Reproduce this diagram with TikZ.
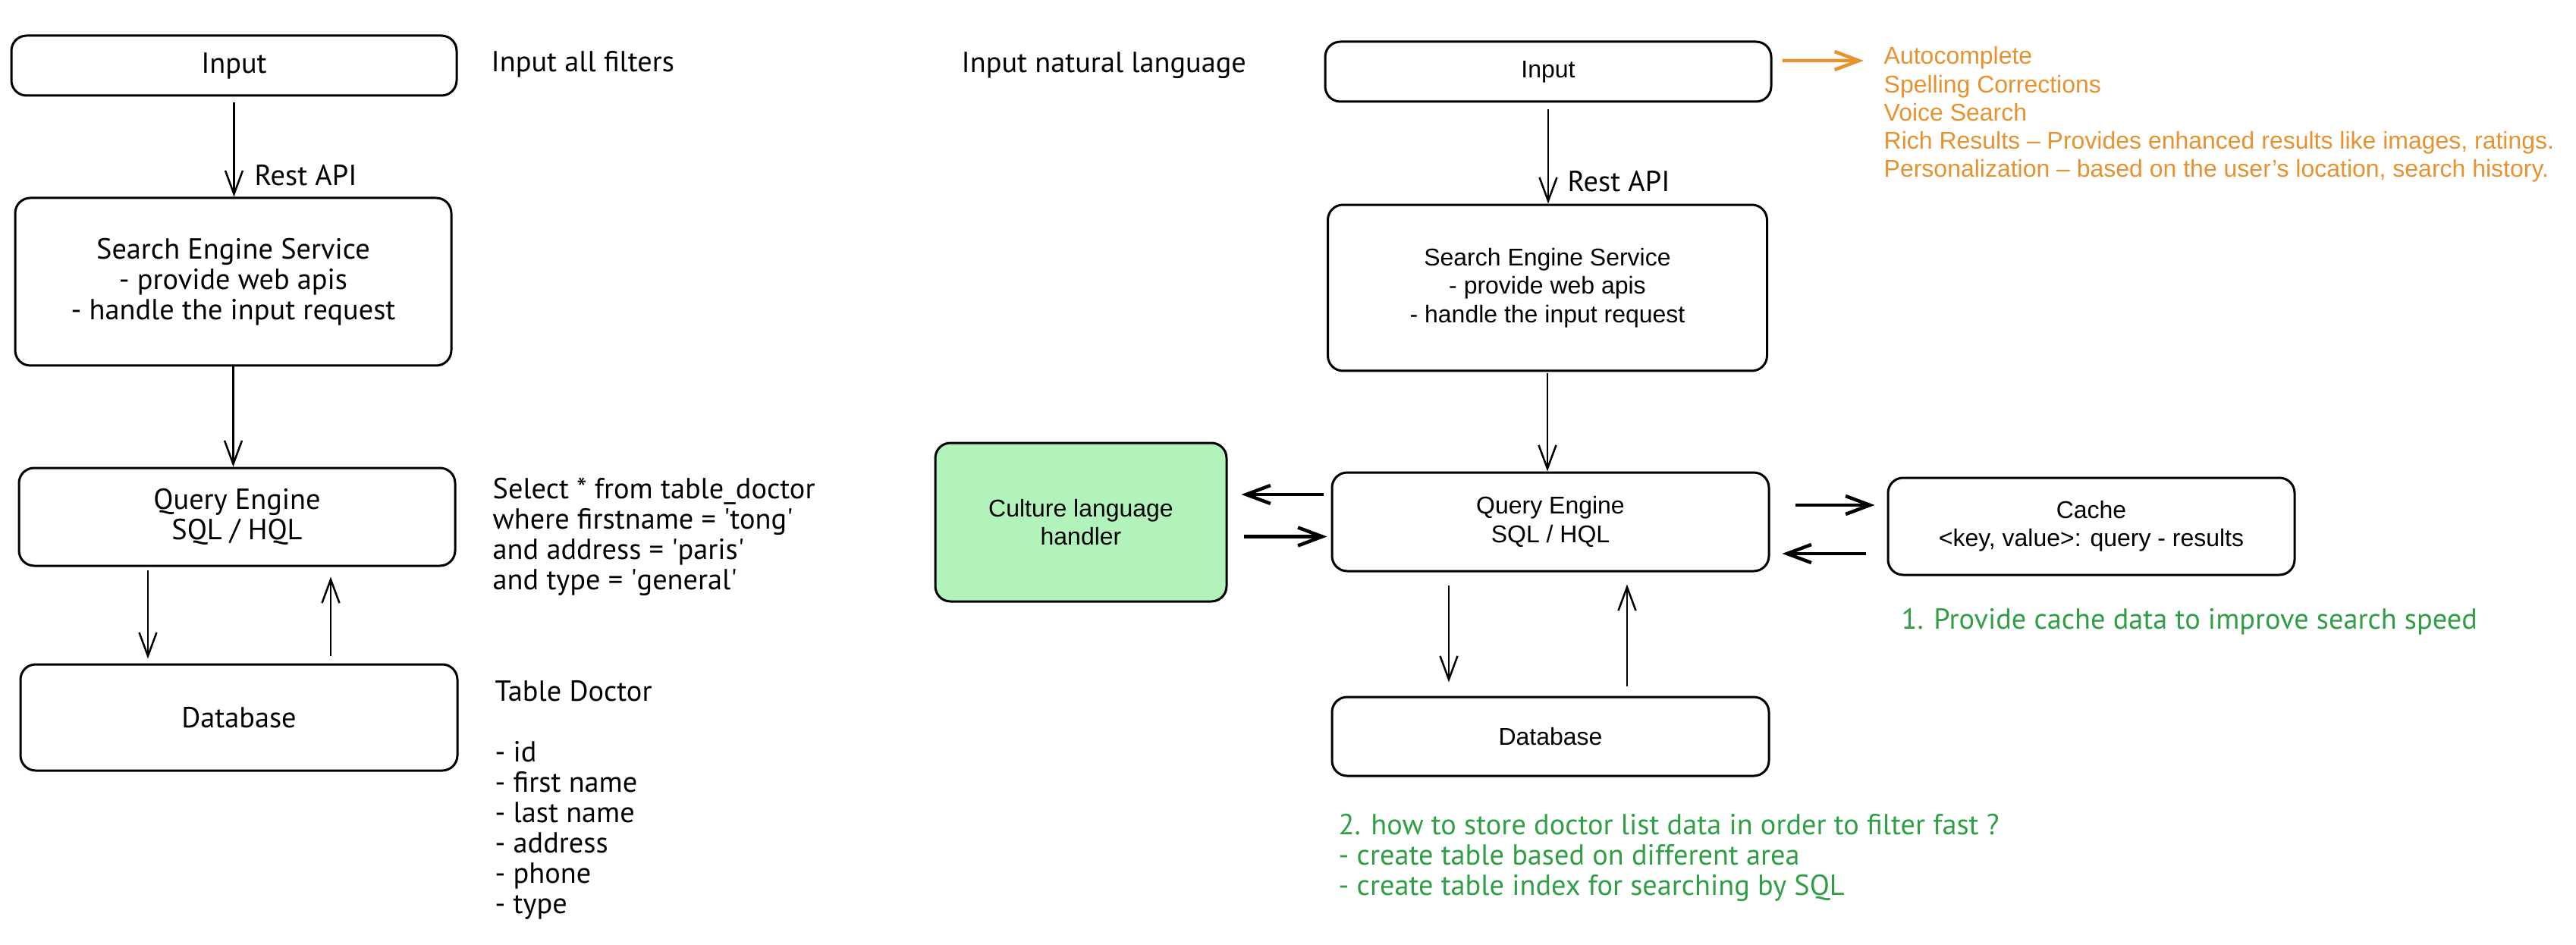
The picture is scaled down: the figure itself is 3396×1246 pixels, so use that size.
\documentclass[tikz,border=0pt]{standalone}
\usepackage{fontspec}
\setmainfont{Liberation Sans}
\newfontfamily\handfont{PT Sans}
\usetikzlibrary{arrows.meta}

\definecolor{notegreen}{HTML}{2F9E44}
\definecolor{noteorange}{HTML}{E8912F}
\definecolor{boxgreen}{HTML}{B2F2BB}

\tikzset{
  box/.style={draw, rounded corners=2mm, line width=0.3mm, inner sep=0pt, align=center},
  hand/.style={font=\handfont\fontsize{10.9}{11.4}\selectfont},
  sans/.style={font=\fontsize{9.1}{10.6}\selectfont},
  link/.style={-{Straight Barb[length=3.1mm,width=2.3mm]}, line width=0.25mm},
  boldlink/.style={-{Straight Barb[length=3.2mm,width=2.4mm]}, line width=0.45mm},
}

\begin{document}
\begin{tikzpicture}[x=0.1mm, y=-0.1mm]
        \useasboundingbox (0,0) rectangle (3396,1246);

        % filter search
        \begin{scope}[every node/.style={box, hand}]
          \node[minimum width=58.7mm, minimum height=7.9mm]  (in1)  at (308.5,86.5) {Input};
          \node[minimum width=57.5mm, minimum height=22.1mm] (ses1) at (307.5,371.5) {Search Engine Service\\- provide web apis\\- handle the input request};
          \node[minimum width=57.5mm, minimum height=12.9mm] (qe1)  at (312.5,681.5) {Query Engine\\SQL / HQL};
          \node[minimum width=57.6mm, minimum height=14mm]   (db1)  at (315,946) {Database};
        \end{scope}

        \begin{scope}[every node/.style={hand, anchor=west, align=left, inner sep=0pt}]
          \node (filters) at (647,85) {Input all filters};
          \node (rest1)   at (335,231) {Rest API};
          \node (sql)     at (649,708) {Select * from table\_doctor\\where firstname = \textquotesingle tong\textquotesingle\\and address = \textquotesingle paris\textquotesingle\\and type = \textquotesingle general\textquotesingle};
          \node (table)   at (652,1055) {Table Doctor\\[4mm]- id\\- first name\\- last name\\- address\\- phone\\- type};
          \node (natural) at (1267,86) {Input natural language};
          \node (rest2)   at (2066,239) {Rest API};
        \end{scope}

        % natural language search
        \begin{scope}[every node/.style={box, sans}]
          \node[minimum width=58.8mm, minimum height=7.9mm]  (in2)   at (2041,94.5) {Input};
          \node[minimum width=57.9mm, minimum height=21.9mm] (ses2)  at (2040,379.5) {Search Engine Service\\- provide web apis\\- handle the input request};
          \node[minimum width=57.6mm, minimum height=13mm]   (qe2)   at (2044,688) {Query Engine\\SQL / HQL};
          \node[minimum width=57.6mm, minimum height=10.4mm] (db2)   at (2044,971) {Database};
          \node[minimum width=38.4mm, minimum height=20.9mm, fill=boxgreen] (cult) at (1425,688.5) {Culture language\\handler};
          \node[minimum width=53.6mm, minimum height=12.8mm] (cache) at (2757,694) {Cache\\<key, value>: query - results};
        \end{scope}

        \node[sans, text=noteorange, anchor=west, align=left, inner sep=0pt] (feat) at (2483,151)
          {Autocomplete\\Spelling Corrections\\Voice Search\\Rich Results – Provides enhanced results like images, ratings.\\Personalization – based on the user’s location, search history.};
        \coordinate (feattip) at (2457,80);

        \begin{scope}[every node/.style={hand, text=notegreen, anchor=west, align=left, inner sep=0pt}]
          \node (note1) at (2506,820) {1. Provide cache data to improve search speed};
          \node (note2) at (1764,1131) {2. how to store doctor list data in order to filter fast ?\\- create table based on different area\\- create table index for searching by SQL};
        \end{scope}

        \begin{scope}[every edge/.style={draw, link}]
          \path (in1.south)  edge[shorten <=0.8mm] (in1.south |- ses1.north);
          \path (ses1.south) edge (ses1.south |- qe1.north);
          \path ([xshift=-11.75mm]qe1.south) edge[shorten <=0.4mm, shorten >=0.6mm] ([xshift=-11.75mm]qe1.south |- db1.north);
          \path ([xshift=12.1mm]db1.north)   edge[shorten <=1mm, shorten >=1.3mm] ([xshift=12.1mm]db1.north |- qe1.south);

          \path (in2.south)  edge[shorten <=0.9mm] (in2.south |- ses2.north);
          \path (ses2.south) edge[shorten <=0.2mm] (ses2.south |- qe2.north);
          \path ([xshift=-13.4mm]qe2.south)  edge[shorten <=1.7mm, shorten >=1.8mm] ([xshift=-13.4mm]qe2.south |- db2.north);
          \path ([xshift=10.1mm]db2.north)   edge[shorten <=1.3mm, shorten >=1.6mm] ([xshift=10.1mm]db2.north |- qe2.south);
        \end{scope}

        \begin{scope}[every edge/.style={draw, boldlink}]
          \path ([yshift=3.6mm]qe2.west)   edge[shorten <=1mm, shorten >=1.8mm] ([yshift=3.6mm]qe2.west -| cult.east);
          \path ([yshift=-1.9mm]cult.east) edge[shorten <=2.1mm, shorten >=0.5mm] ([yshift=-1.9mm]cult.east -| qe2.west);
          \path ([yshift=2.2mm]qe2.east)   edge[shorten <=3.3mm, shorten >=1.6mm] ([yshift=2.2mm]qe2.east -| cache.west);
          \path ([yshift=-4.2mm]qe2.west -| cache.west) edge[shorten <=2.8mm, shorten >=1.6mm] ([yshift=-4.2mm]qe2.east);
          \path ([yshift=1.45mm]in2.east)  edge[draw=noteorange, shorten <=1.3mm] (feattip);
        \end{scope}

      \end{tikzpicture}
\end{document}
